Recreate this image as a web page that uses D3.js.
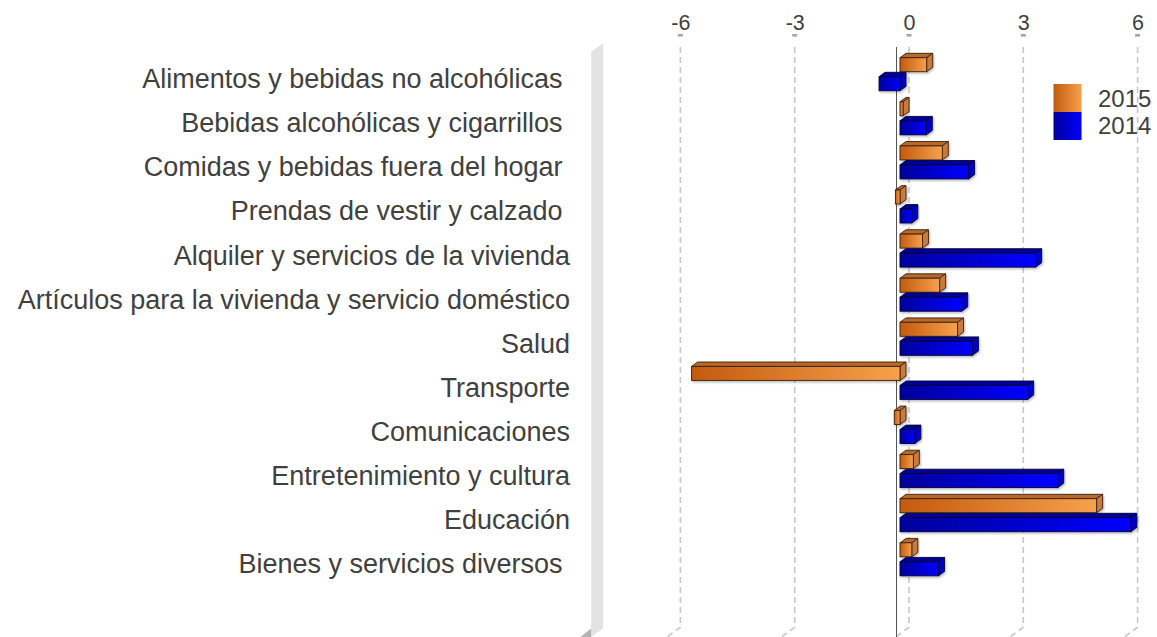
<!DOCTYPE html>
<html>
<head>
<meta charset="utf-8">
<script src="https://cdn.jsdelivr.net/npm/d3@7"></script>
<style>
  html, body { margin: 0; padding: 0; background: #ffffff; }
  svg { display: block; font-family: "Liberation Sans", Arial, sans-serif; }
  .cat { white-space: pre; }
</style>
</head>
<body>
<svg id="chart" width="1157" height="637"></svg>
<script>
// Spending categories (top to bottom) and yearly variation per category
const categories = [
  "Alimentos y bebidas no alcohólicas ",
  "Bebidas alcohólicas y cigarrillos ",
  "Comidas y bebidas fuera del hogar ",
  "Prendas de vestir y calzado ",
  "Alquiler y servicios de la vivienda",
  "Artículos para la vivienda y servicio doméstico",
  "Salud",
  "Transporte",
  "Comunicaciones",
  "Entretenimiento y cultura",
  "Educación",
  "Bienes y servicios diversos "
];
const values2015 = [0.70, 0.08, 1.11, -0.12, 0.59, 1.04, 1.51, -5.47, -0.15, 0.35, 5.16, 0.31];
const values2014 = [-0.55, 0.69, 1.80, 0.31, 3.56, 1.62, 1.90, 3.35, 0.39, 4.14, 6.06, 1.01];
const seriesNames = ["2015", "2014"];
const tickValues = [-6, -3, 0, 3, 6];

const svg = d3.select("#chart");
const W = 1157, H = 637;

// depth geometry of the 3D box (pixels)
const DEPTH = 12, SLOPE = 0.73;
const BAR_FRONT = 3, BAR_DEPTH = 6;

// value scale on the front plane; back plane is shifted by DEPTH
const x = d3.scaleLinear().domain([-8, 6]).range([592.2, 1125.6]);
const xBack = x.copy().range(x.range().map(v => v + DEPTH));

const y = d3.scaleBand().domain(categories).range([52.15, 581.35]);
const ySub = d3.scaleBand().domain(seriesNames).range([5.55, 38.55]).paddingInner(5 / 19);

const colors = {
  "2015": { dark: "#c45a0e", light: "#f6a14c", top: "#b9672c", side: "#c97a3c", edge: "#3a2210" },
  "2014": { dark: "#00009c", light: "#0000ff", top: "#000096", side: "#0000cc", edge: "#00003a" }
};

const defs = svg.append("defs");
seriesNames.forEach(s => {
  const g = defs.append("linearGradient").attr("id", "grad" + s)
    .attr("x1", "0%").attr("x2", "100%").attr("y1", "0%").attr("y2", "0%");
  g.append("stop").attr("offset", "0%").attr("stop-color", colors[s].dark);
  g.append("stop").attr("offset", "100%").attr("stop-color", colors[s].light);
});
const f = defs.append("filter").attr("id", "shadow")
  .attr("x", "-5%").attr("y", "-30%").attr("width", "115%").attr("height", "180%");
f.append("feDropShadow").attr("dx", 1).attr("dy", 1.5).attr("stdDeviation", 1)
  .attr("flood-color", "#000").attr("flood-opacity", 0.28);

// side wall of the box
const wallTop = 52, floorFront = 637;
svg.append("polygon")
  .attr("points", [
    [x(-8) - 1, wallTop], [x(-8) - 1 + DEPTH, wallTop - DEPTH * SLOPE],
    [x(-8) - 1 + DEPTH, floorFront - DEPTH * SLOPE], [x(-8) - 1, floorFront]
  ].map(p => p.join(",")).join(" "))
  .attr("fill", "#e3e3e3");
svg.append("polygon")
  .attr("points", [[x(-8) - 12, 637], [x(-8) - 1, 628.5], [x(-8) - 1, 637]].map(p => p.join(",")).join(" "))
  .attr("fill", "#b4b4b4");

// gridlines on the back wall, bending onto the floor
const gridTop = 47, gridBottom = floorFront - DEPTH * SLOPE - 1;
svg.append("g").selectAll("path").data(tickValues).join("path")
  .attr("d", v => {
    const xb = xBack(v);
    return `M${xb},${gridTop}L${xb},${gridBottom}L${xb - DEPTH - 4},${gridBottom + (DEPTH + 4) * SLOPE}`;
  })
  .attr("fill", "none").attr("stroke", "#c8c8c8").attr("stroke-width", 1.6)
  .attr("stroke-dasharray", "6,4");

// small tick marks above the plot
svg.append("g").selectAll("rect").data(tickValues).join("rect")
  .attr("x", v => xBack(v) - 2.5).attr("y", 34).attr("width", 5).attr("height", 2.6)
  .attr("fill", "#a6a6a6");

// tick labels (plain hyphen for negatives)
const axis = svg.append("g").attr("transform", "translate(0,30)")
  .call(d3.axisTop(xBack).tickValues(tickValues).tickSize(0).tickPadding(0)
    .tickFormat(d => String(d)));
axis.select(".domain").remove();
axis.selectAll("text")
  .attr("font-family", "'Liberation Sans', Arial, sans-serif")
  .attr("font-size", 21.5).attr("fill", "#404040");

// zero axis line
svg.append("line")
  .attr("x1", x(0) - 0.5).attr("x2", x(0) - 0.5).attr("y1", 47).attr("y2", H)
  .attr("stroke", "#555").attr("stroke-width", 1);

// category labels
svg.append("g").selectAll("text").data(categories).join("text")
  .attr("class", "cat")
  .attr("x", 570).attr("y", c => y(c) + 36)
  .attr("text-anchor", "end")
  .attr("font-size", 27).attr("fill", "#404040")
  .text(c => c);

// bars
const rows = [];
categories.forEach((c, i) => {
  rows.push({ cat: c, series: "2015", value: values2015[i] });
  rows.push({ cat: c, series: "2014", value: values2014[i] });
});

const dx = BAR_DEPTH, dy = -BAR_DEPTH * SLOPE;
const bars = svg.append("g").selectAll("g").data(rows).join("g")
  .attr("filter", "url(#shadow)");

bars.each(function (d) {
  const g = d3.select(this);
  const x1 = Math.min(x(0), x(d.value)) + BAR_FRONT;
  const x2 = Math.max(x(0), x(d.value)) + BAR_FRONT;
  const y1 = y(d.cat) + ySub(d.series);
  const h = ySub.bandwidth();
  const c = colors[d.series];
  const pts = a => a.map(p => p.join(",")).join(" ");
  // top face
  g.append("polygon")
    .attr("points", pts([[x1, y1], [x2, y1], [x2 + dx, y1 + dy], [x1 + dx, y1 + dy]]))
    .attr("fill", c.top).attr("stroke", c.edge).attr("stroke-width", 0.9).attr("stroke-linejoin", "round");
  // end face
  g.append("polygon")
    .attr("points", pts([[x2, y1], [x2 + dx, y1 + dy], [x2 + dx, y1 + dy + h], [x2, y1 + h]]))
    .attr("fill", c.side).attr("stroke", c.edge).attr("stroke-width", 0.9).attr("stroke-linejoin", "round");
  // front face
  g.append("rect")
    .attr("x", x1).attr("y", y1).attr("width", Math.max(0, x2 - x1)).attr("height", h)
    .attr("fill", `url(#grad${d.series})`).attr("stroke", c.edge).attr("stroke-width", 0.9);
});

// legend
const legend = svg.append("g");
seriesNames.forEach((s, i) => {
  legend.append("rect")
    .attr("x", 1053.5).attr("y", 84 + i * 28).attr("width", 28).attr("height", 28)
    .attr("fill", `url(#grad${s})`);
  legend.append("text")
    .attr("x", 1098).attr("y", 106.5 + i * 27.8)
    .attr("font-size", 24).attr("fill", "#404040")
    .text(s);
});
</script>
</body>
</html>
